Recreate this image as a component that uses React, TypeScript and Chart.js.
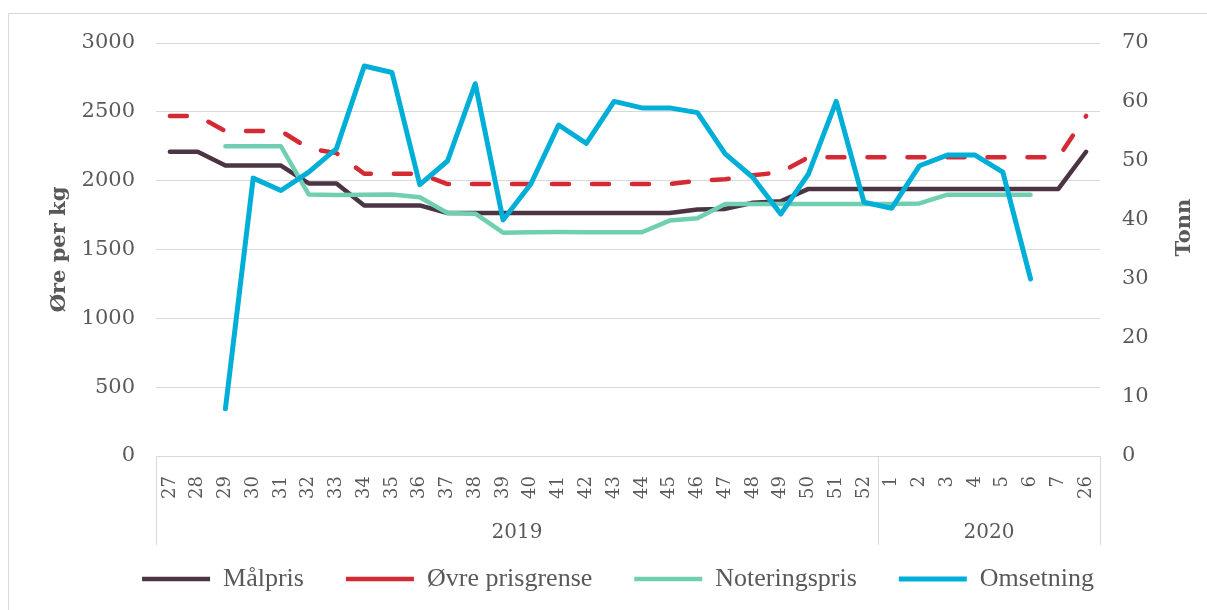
import React, { useEffect, useRef } from 'react';
import { Chart, registerables } from 'chart.js';

Chart.register(...registerables);

const weeks = [
  '27', '28', '29', '30', '31', '32', '33', '34', '35', '36', '37', '38', '39', '40', '41', '42', '43', '44',
  '45', '46', '47', '48', '49', '50', '51', '52', '1', '2', '3', '4', '5', '6', '7', '26',
];

const years = ['2019', '2020'];
const yearStartIndex = [0, 26];
const yearEndIndex = [25, 33];

const malpris = [
  2210, 2210, 2110, 2110, 2110, 1980, 1980, 1820, 1820, 1820, 1765, 1765, 1765, 1765, 1765, 1765, 1765, 1765,
  1765, 1790, 1795, 1840, 1850, 1940, 1940, 1940, 1940, 1940, 1940, 1940, 1940, 1940, 1940, 2210,
];

const ovrePrisgrense = [
  2470, 2470, 2360, 2360, 2360, 2235, 2200, 2050, 2050, 2050, 1975, 1975, 1975, 1975, 1975, 1975, 1975, 1975,
  1975, 2000, 2010, 2040, 2060, 2170, 2170, 2170, 2170, 2170, 2170, 2170, 2170, 2170, 2170, 2470,
];

const noteringspris = [
  null, null, 2250, 2250, 2250, 1900, 1895, 1898, 1900, 1880, 1765, 1760, 1622, 1625, 1627, 1625, 1625, 1625,
  1710, 1727, 1830, 1830, 1830, 1830, 1830, 1830, 1830, 1835, 1898, 1898, 1898, 1898, null, null,
];

const omsetning = [
  null, null, 8, 47.1, 45, 48.1, 52.1, 66.1, 65, 46, 50, 63.1, 40, 46.1, 56.1, 53, 60.1, 59,
  59, 58.2, 51.2, 47.2, 41, 47.8, 60.1, 43, 42, 49.2, 51, 51, 48.1, 30, null, null,
];

const leftTicks = { min: 0, max: 3000, step: 500 };
const rightTicks = { min: 0, max: 70, step: 10 };
const leftTitle = 'Øre per kg';
const rightTitle = 'Tonn';

const TEXT = '#595959';
const GRID = '#d9d9d9';
const SERIF = "'DejaVu Serif', serif";

const yearGroupPlugin = {
  id: 'yearGroups',
  afterDraw(chart: any) {
    const x = chart.scales.x;
    const ctx = chart.ctx;
    const area = chart.chartArea;
    const half = (x.getPixelForValue(1) - x.getPixelForValue(0)) / 2;
    const top = area.bottom;
    const bottom = top + 89;
    ctx.save();
    ctx.strokeStyle = GRID;
    ctx.lineWidth = 1;
    ctx.fillStyle = TEXT;
    ctx.font = `20px ${SERIF}`;
    ctx.textAlign = 'center';
    ctx.textBaseline = 'middle';
    years.forEach((label, i) => {
      const l = x.getPixelForValue(yearStartIndex[i]) - half;
      const r = x.getPixelForValue(yearEndIndex[i]) + half;
      [l, r].forEach((px) => {
        const p = Math.round(px) + 0.5;
        ctx.beginPath();
        ctx.moveTo(p, top);
        ctx.lineTo(p, bottom);
        ctx.stroke();
      });
      ctx.fillText(label, (l + r) / 2, top + 77);
    });
    // right axis title, reading bottom-to-top like the left one
    ctx.font = `bold 21px ${SERIF}`;
    ctx.translate(area.right + 85, (area.top + area.bottom) / 2 - 22);
    ctx.rotate(-Math.PI / 2);
    ctx.fillText(rightTitle, 0, 0);
    ctx.restore();
  },
};

export default function App() {
  const ref = useRef<HTMLCanvasElement>(null);

  useEffect(() => {
    if (!ref.current) return;
    const common = {
      pointRadius: 0,
      pointHoverRadius: 0,
      tension: 0,
      fill: false,
      borderCapStyle: 'round' as const,
      borderJoinStyle: 'round' as const,
    };
    const chart = new Chart(ref.current, {
      type: 'line',
      data: {
        labels: weeks,
        datasets: [
          { ...common, label: 'Målpris', data: malpris, borderColor: '#4B3545', backgroundColor: '#4B3545', borderWidth: 4.5, yAxisID: 'y', order: 4 },
          { ...common, label: 'Øvre prisgrense', data: ovrePrisgrense, borderColor: '#D42A34', backgroundColor: '#D42A34', borderWidth: 4.5, borderDash: [17, 23], yAxisID: 'y', order: 3 },
          { ...common, label: 'Noteringspris', data: noteringspris, borderColor: '#70CFB0', backgroundColor: '#70CFB0', borderWidth: 4.5, yAxisID: 'y', order: 2 },
          { ...common, label: 'Omsetning', data: omsetning, borderColor: '#00AFD7', backgroundColor: '#00AFD7', borderWidth: 5, yAxisID: 'y1', order: 1 },
        ],
      },
      options: {
        responsive: false,
        animation: false,
        layout: { padding: { top: 29, bottom: 8, left: 0, right: 0 } },
        plugins: {
          tooltip: { enabled: false },
          legend: {
            position: 'bottom',
            labels: {
              usePointStyle: true,
              pointStyle: 'line',
              pointStyleWidth: 68,
              padding: 42,
              color: TEXT,
              font: { family: "'Liberation Serif', serif", size: 26 },
              sort: (a: any, b: any) => a.datasetIndex - b.datasetIndex,
            },
          },
        },
        scales: {
          x: {
            type: 'category',
            offset: true,
            grid: { display: false, drawTicks: false },
            border: { display: false },
            ticks: {
              autoSkip: false,
              minRotation: 90,
              maxRotation: 90,
              padding: 20,
              color: TEXT,
              font: { family: SERIF, size: 18 },
            },
            afterFit: (s: any) => { s.height = 68; },
          },
          y: {
            position: 'left',
            min: leftTicks.min,
            max: leftTicks.max,
            grid: { color: GRID, lineWidth: 1, drawTicks: false },
            border: { display: false },
            ticks: {
              stepSize: leftTicks.step,
              padding: 21,
              color: TEXT,
              font: { family: SERIF, size: 21 },
              callback: (v: any) => String(v),
            },
            title: { display: true, text: leftTitle, color: TEXT, font: { family: SERIF, size: 21, weight: 'bold' }, padding: { top: 38, bottom: 0 } },
            afterFit: (s: any) => { s.width = 147; s.paddingTop = 0; s.paddingBottom = 0; },
          },
          y1: {
            position: 'right',
            min: rightTicks.min,
            max: rightTicks.max,
            grid: { drawOnChartArea: false, drawTicks: false },
            border: { display: false },
            ticks: {
              stepSize: rightTicks.step,
              padding: 22,
              color: TEXT,
              font: { family: SERIF, size: 21 },
              callback: (v: any) => String(v),
            },
            afterFit: (s: any) => { s.width = 127; s.paddingTop = 0; s.paddingBottom = 0; },
          },
        },
      },
      plugins: [yearGroupPlugin],
    });
    return () => chart.destroy();
  }, []);

  return (
    <div style={{ position: 'fixed', left: 0, top: 0, width: 1207, height: 610, overflow: 'hidden', background: '#fff' }}>
      <div style={{ position: 'absolute', left: 8, top: 13, width: 1300, height: 700, borderLeft: `1px solid ${GRID}`, borderTop: `1px solid ${GRID}` }} />
      <canvas ref={ref} width={1218} height={596} style={{ position: 'absolute', left: 9, top: 14, width: 1218, height: 596 }} />
    </div>
  );
}
